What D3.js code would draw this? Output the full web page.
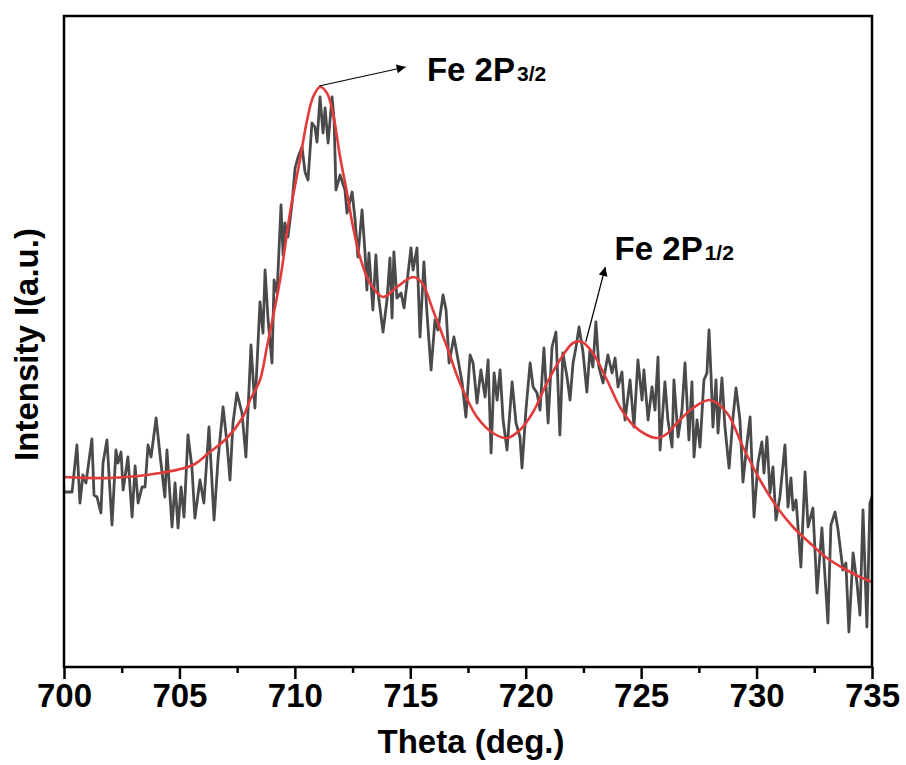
<!DOCTYPE html>
<html>
<head>
<meta charset="utf-8">
<script src="https://cdn.jsdelivr.net/npm/d3@7"></script>
<style>
    body { margin: 0; background: #fff; }
    svg text { font-family: "Liberation Sans", Arial, sans-serif; font-weight: bold; }
</style>
</head>
<body>
<div id="chart"></div>
<script>
// raw XPS scan
const thetaRaw = [700.04, 700.35, 700.56, 700.69, 700.82, 700.95, 701.21, 701.30, 701.43, 701.60,
    701.69, 701.86, 702.08, 702.25, 702.34, 702.47, 702.56, 702.77, 702.95, 703.08,
    703.21, 703.38, 703.51, 703.64, 703.77, 703.99, 704.16, 704.37, 704.46, 704.68,
    704.81, 704.94, 705.07, 705.20, 705.37, 705.54, 705.67, 705.89, 706.06, 706.28,
    706.50, 706.67, 706.89, 707.06, 707.19, 707.32, 707.49, 707.71, 707.88, 708.10,
    708.27, 708.49, 708.62, 708.71, 708.84, 709.01, 709.10, 709.23, 709.40, 709.49,
    709.57, 709.70, 709.88, 710.01, 710.14, 710.31, 710.44, 710.57, 710.74, 710.87,
    710.96, 711.09, 711.22, 711.31, 711.44, 711.61, 711.70, 711.78, 711.96, 712.17,
    712.26, 712.48, 712.61, 712.73, 712.91, 713.04, 713.12, 713.21, 713.38, 713.51,
    713.60, 713.82, 713.99, 714.12, 714.21, 714.29, 714.42, 714.60, 714.73, 715.03,
    715.12, 715.29, 715.42, 715.59, 715.72, 715.90, 716.07, 716.20, 716.42, 716.55,
    716.68, 716.89, 717.07, 717.24, 717.41, 717.59, 717.72, 717.89, 718.06, 718.24,
    718.37, 718.50, 718.63, 718.76, 718.89, 719.02, 719.19, 719.41, 719.58, 719.75,
    719.84, 720.01, 720.19, 720.32, 720.49, 720.62, 720.79, 720.97, 721.14, 721.31,
    721.48, 721.61, 721.79, 721.92, 722.05, 722.18, 722.31, 722.48, 722.65, 722.78,
    722.91, 723.04, 723.17, 723.35, 723.56, 723.74, 723.87, 724.00, 724.17, 724.30,
    724.52, 724.69, 724.86, 725.04, 725.12, 725.30, 725.47, 725.60, 725.73, 725.82,
    726.03, 726.16, 726.34, 726.42, 726.60, 726.77, 726.90, 727.07, 727.20, 727.29,
    727.42, 727.55, 727.72, 727.85, 727.94, 728.03, 728.11, 728.24, 728.33, 728.50,
    728.63, 728.81, 728.98, 729.11, 729.28, 729.41, 729.59, 729.72, 729.89, 730.06,
    730.23, 730.32, 730.45, 730.58, 730.71, 730.84, 731.01, 731.23, 731.36, 731.49,
    731.58, 731.71, 731.92, 732.10, 732.23, 732.44, 732.62, 732.83, 733.01, 733.09,
    733.22, 733.40, 733.53, 733.74, 733.87, 734.00, 734.18, 734.35, 734.48, 734.61,
    734.78, 734.91, 735.00];
const intensityRaw = [175, 175, 222, 164, 192, 184, 228, 172, 170, 154,
    204, 227, 142, 217, 204, 215, 177, 210, 150, 201,
    164, 180, 180, 222, 210, 249, 212, 170, 217, 140,
    184, 139, 180, 150, 232, 200, 149, 187, 164, 240,
    147, 207, 260, 224, 187, 244, 274, 254, 210, 322,
    259, 365, 334, 397, 347, 304, 387, 374, 462, 412,
    444, 430, 464, 499, 510, 520, 495, 487, 544, 540,
    525, 570, 534, 559, 524, 570, 547, 477, 492, 477,
    454, 475, 447, 410, 457, 414, 377, 414, 357, 412,
    375, 335, 367, 409, 349, 415, 369, 374, 359, 419,
    397, 419, 330, 405, 355, 297, 347, 337, 372, 357,
    304, 330, 307, 285, 250, 312, 304, 264, 297, 270,
    307, 214, 294, 267, 297, 247, 217, 285, 244, 230,
    199, 257, 304, 280, 274, 257, 319, 244, 320, 335,
    232, 314, 290, 267, 304, 320, 340, 315, 275, 317,
    300, 345, 300, 284, 312, 294, 309, 280, 295, 247,
    287, 240, 307, 267, 297, 247, 280, 257, 310, 217,
    285, 247, 220, 287, 230, 257, 304, 227, 285, 210,
    247, 220, 287, 294, 337, 290, 240, 287, 234, 289,
    240, 199, 250, 279, 247, 185, 225, 250, 150, 204,
    225, 194, 230, 174, 200, 147, 170, 222, 160, 189,
    157, 167, 100, 195, 140, 159, 74, 139, 74, 44,
    142, 155, 137, 97, 104, 35, 114, 84, 52, 157,
    40, 164, 170];

// peak fit envelope
const thetaFit = [700.0, 701.99, 704.16, 705.59, 706.32, 707.06, 707.75, 708.06, 708.49, 708.79,
    709.36, 709.79, 710.22, 710.53, 710.79, 711.09, 711.39, 711.65, 711.96, 712.26,
    712.52, 712.82, 713.25, 713.82, 714.42, 715.12, 715.51, 715.98, 716.59, 717.15,
    717.89, 718.58, 719.19, 719.75, 720.32, 720.92, 721.48, 722.05, 722.44, 722.91,
    723.52, 724.08, 724.65, 725.25, 725.73, 726.16, 726.55, 727.25, 727.98, 728.72,
    729.41, 730.15, 730.88, 731.58, 732.31, 733.05, 733.74, 734.48, 735.0];
const intensityFit = [190, 189, 194, 202, 215, 229, 250, 267, 287, 320,
    387, 454, 507, 547, 570, 580, 574, 554, 510, 474,
    440, 410, 384, 370, 380, 390, 384, 357, 320, 284,
    250, 234, 229, 237, 255, 284, 307, 324, 325, 314,
    287, 260, 242, 232, 229, 234, 244, 259, 267, 254,
    220, 187, 160, 140, 124, 109, 99, 90, 85];

const xTicks = [700, 705, 710, 715, 720, 725, 730, 735];
const xMinorTicks = [702.5, 707.5, 712.5, 717.5, 722.5, 727.5, 732.5];
const xDomain = [700, 735];
const yDomain = [0, 651];

// annotations: [theta, intensity] of arrow start / end / text anchor
const peakLabels = [
    { main: "Fe 2P", sub: "3/2", from: [711.05, 581], to: [714.8, 600], text: [715.72, 586] },
    { main: "Fe 2P", sub: "1/2", from: [722.6, 325], to: [723.45, 400], text: [723.85, 407] }
];

const fontSize = 33;
const subFontSize = 21;

const margin = { top: 16, right: 34, bottom: 98, left: 64 };
const width = 906 - margin.left - margin.right;
const height = 765 - margin.top - margin.bottom;

const svg = d3.select("#chart")
    .append("svg")
    .attr("width", 906)
    .attr("height", 765)
    .append("g")
    .attr("transform", "translate(" + margin.left + "," + margin.top + ")");

const xScale = d3.scaleLinear().domain(xDomain).range([0, width]);
const yScale = d3.scaleLinear().domain(yDomain).range([height, 0]);

svg.append("defs").append("marker")
    .attr("id", "arrowhead")
    .attr("viewBox", "0 0 10 10")
    .attr("refX", 10).attr("refY", 5)
    .attr("markerWidth", 16).attr("markerHeight", 9)
    .attr("markerUnits", "userSpaceOnUse")
    .attr("orient", "auto")
    .append("path")
    .attr("d", "M0,0 L10,5 L0,10 z")
    .attr("fill", "#000");

const raw = thetaRaw.map((t, i) => ({ x: t, y: intensityRaw[i] }));
const fit = thetaFit.map((t, i) => ({ x: t, y: intensityFit[i] }));

svg.append("path")
    .datum(raw)
    .attr("fill", "none")
    .attr("stroke", "#4a4a4a")
    .attr("stroke-width", 2.8)
    .attr("stroke-linejoin", "round")
    .attr("d", d3.line()
        .curve(d3.curveLinear)
        .x(function (d) { return xScale(d.x) })
        .y(function (d) { return yScale(d.y) })
    );

svg.append("path")
    .datum(fit)
    .attr("fill", "none")
    .attr("stroke", "#e23b3b")
    .attr("stroke-width", 2.6)
    .attr("d", d3.line()
        .curve(d3.curveCatmullRom)
        .x(function (d) { return xScale(d.x) })
        .y(function (d) { return yScale(d.y) })
    );

// frame
svg.append("rect")
    .attr("x", 0).attr("y", 0)
    .attr("width", width).attr("height", height)
    .attr("fill", "none")
    .attr("stroke", "#000")
    .attr("stroke-width", 2.5);

const xAxis = d3.axisBottom(xScale)
    .tickValues(xTicks)
    .tickFormat(d3.format("d"))
    .tickSize(12)
    .tickPadding(5);

const xMinor = d3.axisBottom(xScale)
    .tickValues(xMinorTicks)
    .tickFormat("")
    .tickSize(6);

const gx = svg.append("g")
    .attr("class", "x-axis")
    .attr("transform", "translate(0," + height + ")")
    .call(xAxis);

svg.append("g")
    .attr("class", "x-minor")
    .attr("transform", "translate(0," + height + ")")
    .call(xMinor);

svg.selectAll(".x-axis path, .x-minor path").remove();
svg.selectAll(".x-axis line, .x-minor line")
    .attr("stroke", "#000")
    .attr("stroke-width", 2.5);
gx.selectAll("text")
    .attr("font-size", fontSize)
    .attr("fill", "#000");

// axis titles
svg.append("text")
    .attr("x", width / 2 + 3)
    .attr("y", height + 86)
    .attr("text-anchor", "middle")
    .attr("font-size", fontSize)
    .text("Theta (deg.)");

svg.append("text")
    .attr("transform", "translate(" + (38 - margin.left) + "," + (height / 2 + 3) + ") rotate(-90)")
    .attr("text-anchor", "middle")
    .attr("font-size", fontSize)
    .text("Intensity I(a.u.)");

// peak annotations
peakLabels.forEach(function (p) {
    svg.append("line")
        .attr("x1", xScale(p.from[0])).attr("y1", yScale(p.from[1]))
        .attr("x2", xScale(p.to[0])).attr("y2", yScale(p.to[1]))
        .attr("stroke", "#000")
        .attr("stroke-width", 1.2)
        .attr("marker-end", "url(#arrowhead)");

    const t = svg.append("text")
        .attr("x", xScale(p.text[0]))
        .attr("y", yScale(p.text[1]))
        .attr("font-size", fontSize);
    t.append("tspan").text(p.main);
    t.append("tspan").attr("font-size", subFontSize).attr("dx", 2).text(p.sub);
});
</script>
</body>
</html>
